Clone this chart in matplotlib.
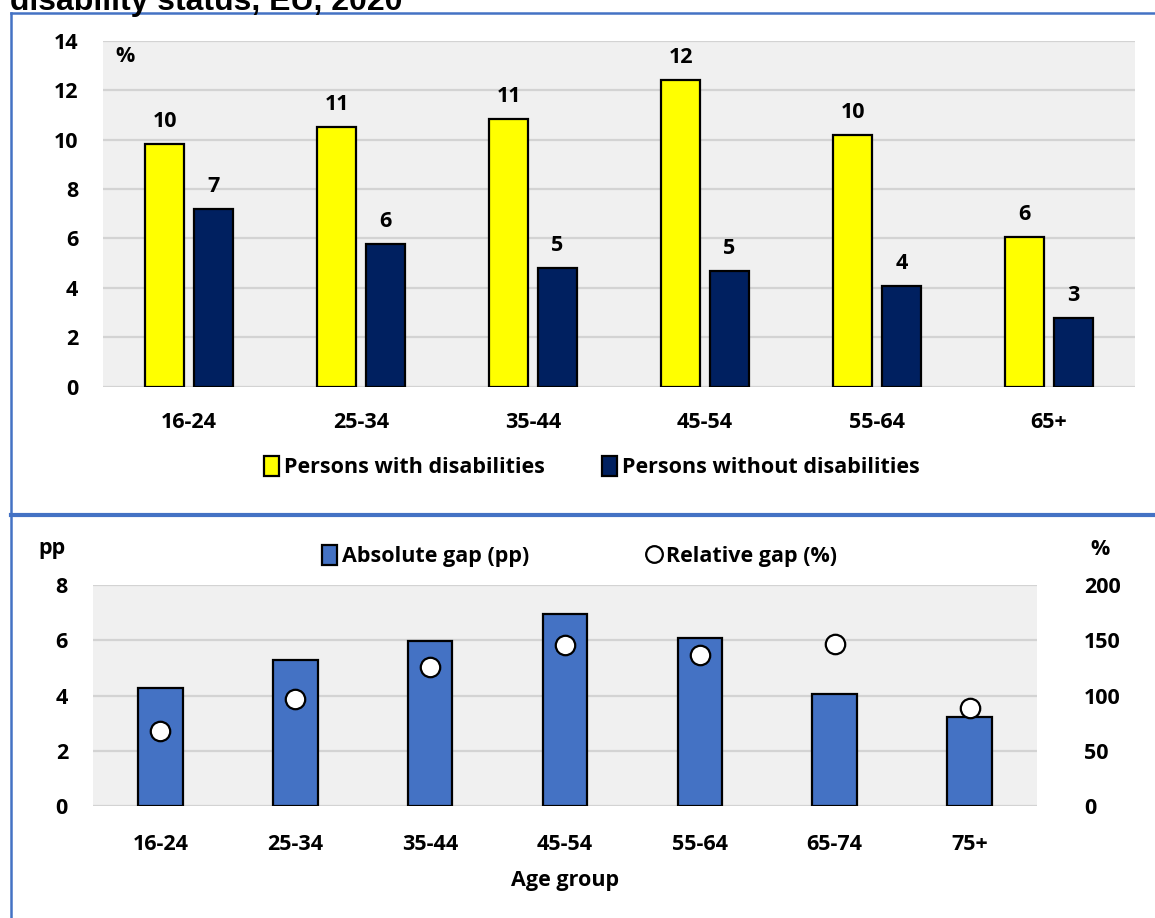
import numpy as np
import matplotlib
matplotlib.use("Agg")
import matplotlib.pyplot as plt
from matplotlib.patches import Patch
from matplotlib.lines import Line2D

plt.rcParams["font.family"] = ["Open Sans", "DejaVu Sans"]
plt.rcParams["font.weight"] = "bold"

# top chart: rate by age group
ages_top = ["16-24", "25-34", "35-44", "45-54", "55-64", "65+"]
with_dis = [9.82, 10.52, 10.82, 12.41, 10.19, 6.07]
without_dis = [7.19, 5.79, 4.80, 4.70, 4.08, 2.78]

# bottom chart: gaps by age group
ages_bot = ["16-24", "25-34", "35-44", "45-54", "55-64", "65-74", "75+"]
abs_gap = [4.28, 5.30, 5.99, 6.96, 6.08, 4.04, 3.22]
rel_gap = [67.8, 96.7, 126.0, 145.6, 137.0, 147.0, 88.9]

yellow = "#FFFF00"
navy = "#002060"
blue = "#4472C4"
bg = "#F0F0F0"
grid = "#D3D3D3"
FS = 15.5

fig = plt.figure(figsize=(11.55, 9.18), dpi=100)

def style(ax):
    ax.set_facecolor(bg)
    for s in ax.spines.values():
        s.set_visible(False)
    ax.tick_params(length=0, labelsize=FS)
    ax.yaxis.grid(True, color=grid, lw=1.6)
    ax.set_axisbelow(True)

# ---- top panel
ax1 = fig.add_axes([0.0892, 0.5788, 0.8935, 0.3769])
style(ax1)
x = np.arange(len(ages_top))
w = 0.226
b1 = ax1.bar(x - 0.142, with_dis, w, color=yellow, edgecolor="black", lw=1.6)
b2 = ax1.bar(x + 0.142, without_dis, w, color=navy, edgecolor="black", lw=1.6)
ax1.bar_label(b1, labels=["%.0f" % v for v in with_dis], padding=8.5, fontsize=FS, fontweight="bold")
ax1.bar_label(b2, labels=["%.0f" % v for v in without_dis], padding=8.5, fontsize=FS, fontweight="bold")
ax1.set_xlim(-0.5, len(ages_top) - 0.5)
ax1.set_ylim(0, 14)
ax1.set_yticks(range(0, 15, 2))
ax1.set_xticks(x)
ax1.set_xticklabels(ages_top)
ax1.tick_params(axis="y", pad=18)
ax1.tick_params(axis="x", pad=18)
ax1.text(0.021, 0.953, "%", transform=ax1.transAxes, ha="center", va="center", fontsize=FS)

leg_kw = dict(loc="center left", frameon=False, fontsize=FS, handlelength=0.7, handleheight=1.05,
              handletextpad=0.25, borderpad=0, borderaxespad=0)
fig.legend(handles=[Patch(facecolor=yellow, edgecolor="black", lw=1.6, label="Persons with disabilities")],
           bbox_to_anchor=(264 / 1155, 0.491), **leg_kw)
fig.legend(handles=[Patch(facecolor=navy, edgecolor="black", lw=1.6, label="Persons without disabilities")],
           bbox_to_anchor=(602 / 1155, 0.491), **leg_kw)

# ---- bottom panel
ax2 = fig.add_axes([0.0805, 0.1220, 0.8173, 0.2407])
style(ax2)
xb = np.arange(len(ages_bot))
ax2.bar(xb, abs_gap, 0.33, color=blue, edgecolor="black", lw=1.6)
ax2.set_xlim(-0.5, len(ages_bot) - 0.5)
ax2.set_ylim(0, 8)
ax2.set_yticks(range(0, 9, 2))
ax2.set_xticks(xb)
ax2.set_xticklabels(ages_bot)
ax2.tick_params(axis="y", pad=18)
ax2.tick_params(axis="x", pad=20)
ax2.set_xlabel("Age group", fontsize=FS, fontweight="bold", labelpad=11)

ax3 = ax2.twinx()
for s in ax3.spines.values():
    s.set_visible(False)
ax3.plot(xb, rel_gap, "o", color="white", markeredgecolor="black", markersize=14, markeredgewidth=1.6)
ax3.set_ylim(0, 200)
ax3.set_yticks(range(0, 201, 50))
ax3.tick_params(length=0, labelsize=FS, pad=34)

fig.text(0.045, 0.403, "pp", ha="center", va="center", fontsize=FS)
fig.text(0.952, 0.401, "%", ha="center", va="center", fontsize=FS)

fig.legend(handles=[Patch(facecolor=blue, edgecolor="black", lw=1.6, label="Absolute gap (pp)")],
           bbox_to_anchor=(322 / 1155, 0.3943), **leg_kw)
fig.legend(handles=[Line2D([], [], marker="o", ls="none", color="white", markeredgecolor="black",
                           markersize=12, markeredgewidth=1.6, label="Relative gap (%)")],
           bbox_to_anchor=(646 / 1155, 0.3943), **leg_kw)

# cut-off title and panel frames
fig.text(0.009, 1 - 10 / 918, "disability status, EU, 2020", ha="left", va="baseline",
         fontsize=23, fontweight="bold", family="Liberation Sans")
fig.add_artist(Line2D([0.0095, 0.0095], [0, 0.986], transform=fig.transFigure, color=blue, lw=1.8))
fig.add_artist(Line2D([0.0095, 1], [0.986, 0.986], transform=fig.transFigure, color=blue, lw=1.8))
fig.add_artist(Line2D([0.0095, 1], [0.439, 0.439], transform=fig.transFigure, color=blue, lw=3))

plt.savefig("out.png", dpi=100)
